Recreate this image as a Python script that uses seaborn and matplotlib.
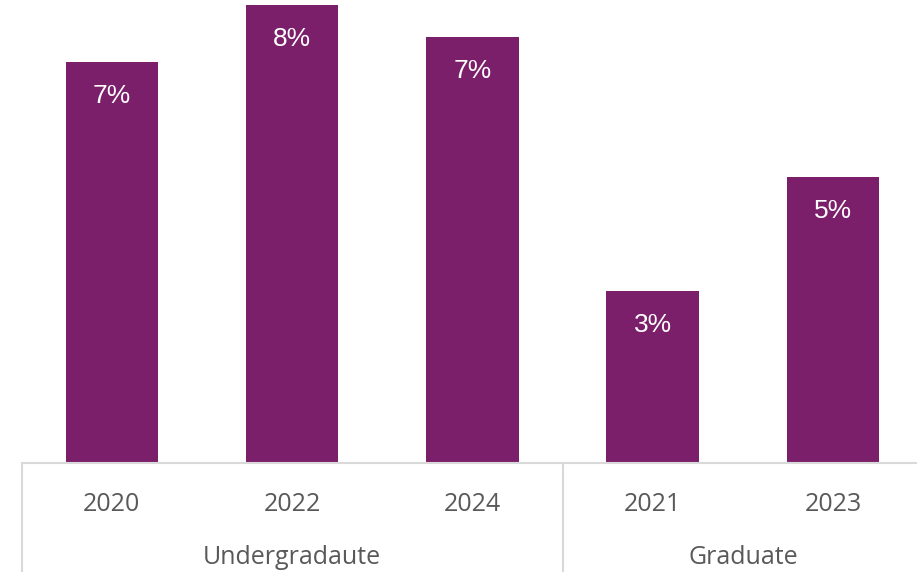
import matplotlib
matplotlib.use("Agg")
import matplotlib.pyplot as plt
import matplotlib.transforms as mtransforms
import seaborn as sns
import pandas as pd

# Rates by year, grouped by level of study
years = ["2020", "2022", "2024", "2021", "2023"]
groups = ["Undergradaute", "Undergradaute", "Undergradaute", "Graduate", "Graduate"]
rates = [0.070, 0.080, 0.0745, 0.030, 0.050]

bar_color = "#7B1F6A"
text_color = "#595959"
line_color = "#D9D9D9"

sns.set_theme(style="white")
plt.rcParams["font.family"] = ["Open Sans", "DejaVu Sans"]

df = pd.DataFrame({"year": years, "group": groups, "rate": rates})

fig = plt.figure(figsize=(9.17, 5.72), dpi=100)
ax = fig.add_axes([0.0237, 0.191, 0.983, 0.809])

sns.barplot(data=df, x="year", y="rate", order=years, color=bar_color,
            saturation=1, width=0.514, linewidth=0, ax=ax)

ax.set_ylim(0, 0.0809)
ax.set_xlim(-0.5, len(years) - 0.5)
ax.set_xlabel("")
ax.set_ylabel("")
ax.set_yticks([])
for side in ["left", "right", "top"]:
    ax.spines[side].set_visible(False)
ax.spines["bottom"].set_color(line_color)
ax.spines["bottom"].set_linewidth(1.5)

ax.tick_params(axis="x", length=0, pad=21, labelsize=18, labelcolor=text_color)

# Value labels inside the top of each bar
for patch, v in zip(ax.patches, rates):
    xc = patch.get_x() + patch.get_width() / 2
    ax.annotate(f"{v:.0%}", (xc, v), xytext=(0, -34), textcoords="offset pixels",
                ha="center", va="center", color="white", fontsize=19,
                family=["Liberation Sans", "DejaVu Sans"])

# Group labels and separators below the category labels
trans = mtransforms.blended_transform_factory(ax.transData, ax.transAxes)
group_names = []
for g in groups:
    if g not in group_names:
        group_names.append(g)
bounds = [-0.5]
for g in group_names:
    idx = [i for i, gg in enumerate(groups) if gg == g]
    center = (idx[0] + idx[-1]) / 2
    ax.text(center, -0.205, g, transform=trans, ha="center", va="center",
            fontsize=18, color=text_color)
    bounds.append(idx[-1] + 0.5)
for b in bounds:
    ax.plot([b, b], [0, -0.30], transform=trans, color=line_color,
            linewidth=1.5, clip_on=False)

fig.savefig("out.png", dpi=100)
